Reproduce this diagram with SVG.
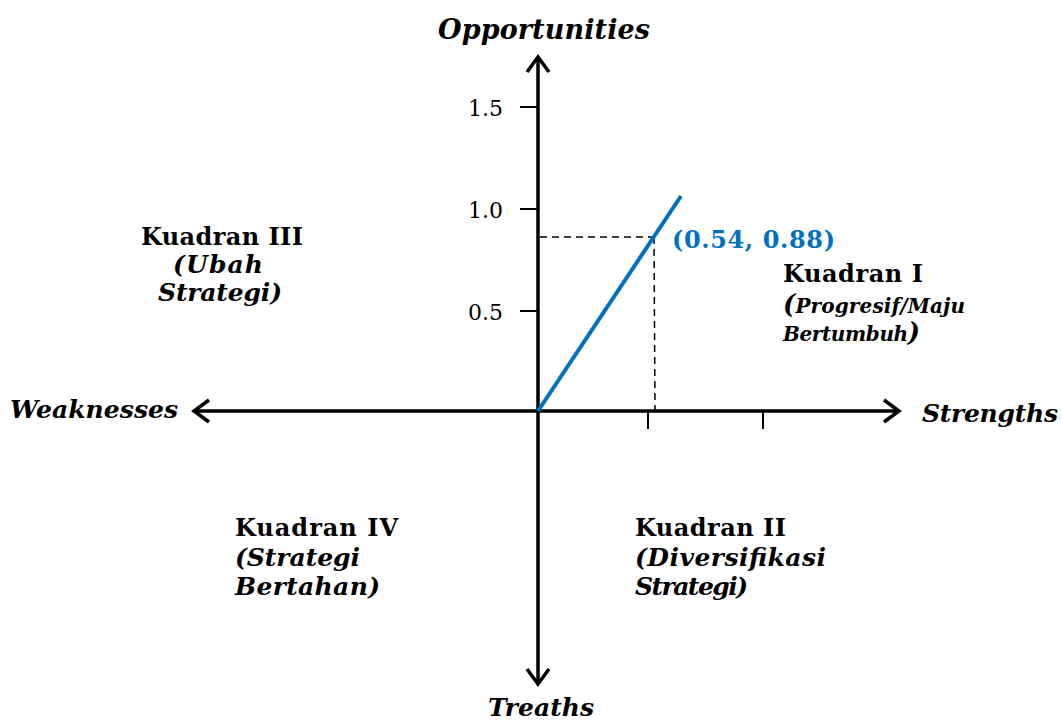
<svg xmlns="http://www.w3.org/2000/svg" width="1062" height="720" viewBox="0 0 1062 720">
<style>
text{font-family:"DejaVu Serif","Liberation Serif",serif;fill:#000}
.ax{font-weight:bold;font-style:italic;font-size:25px}
.kt{font-weight:bold;font-size:24px}
.ks{font-weight:bold;font-style:italic;font-size:25px}
.tk{font-size:22px}
.axis{stroke:#000;stroke-width:3.5;fill:none}
.tick{stroke:#000;stroke-width:2;fill:none}
.dash{stroke:#000;stroke-width:1.5;stroke-dasharray:7,5;fill:none}
</style>
<rect width="1062" height="720" fill="#fff"/>
<g id="connectors">
<line class="axis" x1="538" y1="57" x2="538" y2="684"/>
<line class="axis" x1="194" y1="411" x2="899" y2="411"/>
<polyline class="axis" points="527,72 538,57 549,72"/>
<polyline class="axis" points="527,669 538,684 549,669"/>
<polyline class="axis" points="209,400 194,411 209,422"/>
<polyline class="axis" points="884,400 899,411 884,422"/>
<line class="tick" x1="520" y1="107" x2="538" y2="107"/>
<line class="tick" x1="520" y1="209" x2="538" y2="209"/>
<line class="tick" x1="520" y1="311" x2="538" y2="311"/>
<line class="tick" x1="648" y1="411" x2="648" y2="429"/>
<line class="tick" x1="763" y1="411" x2="763" y2="429"/>
<line class="dash" x1="540" y1="237" x2="654" y2="237"/>
<line class="dash" x1="654" y1="237" x2="655" y2="410"/>
<line x1="538" y1="411" x2="681" y2="196" stroke="#0070C0" stroke-width="4"/>
</g>
<g id="axis-labels">
<text class="ax" x="438" y="39" textLength="212" style="font-size:27px">Opportunities</text>
<text class="ax" x="922" y="422" textLength="136">Strengths</text>
<text class="ax" x="10" y="418" textLength="168">Weaknesses</text>
<text class="ax" x="488" y="716" textLength="106">Treaths</text>
<text class="tk" x="503" y="116" text-anchor="end">1.5</text>
<text class="tk" x="503" y="218" text-anchor="end">1.0</text>
<text class="tk" x="503" y="320" text-anchor="end">0.5</text>
</g>
<g id="point">
<text x="672" y="248" textLength="163" style="font-weight:bold;font-size:24px;fill:#0070C0">(0.54, 0.88)</text>
</g>
<g id="kuadran1">
<text class="kt" x="783" y="282" textLength="140">Kuadran I</text>
<text class="ks" x="783" y="313" textLength="182" style="font-size:20px"><tspan style="font-size:26px">(</tspan>Progresif/Maju</text>
<text class="ks" x="783" y="341" textLength="137" style="font-size:20px">Bertumbuh<tspan style="font-size:26px">)</tspan></text>
</g>
<g id="kuadran3">
<text class="kt" x="222" y="245" text-anchor="middle" textLength="162">Kuadran III</text>
<text class="ks" x="218" y="273" text-anchor="middle" textLength="90">(Ubah</text>
<text class="ks" x="220" y="301" text-anchor="middle" textLength="124">Strategi)</text>
</g>
<g id="kuadran4">
<text class="kt" x="235" y="536" textLength="163">Kuadran IV</text>
<text class="ks" x="235" y="566" textLength="125">(Strategi</text>
<text class="ks" x="235" y="595" textLength="145">Bertahan)</text>
</g>
<g id="kuadran2">
<text class="kt" x="635" y="536" textLength="151">Kuadran II</text>
<text class="ks" x="635" y="566" textLength="191">(Diversifikasi</text>
<text class="ks" x="635" y="595" textLength="113">Strategi)</text>
</g>
</svg>
